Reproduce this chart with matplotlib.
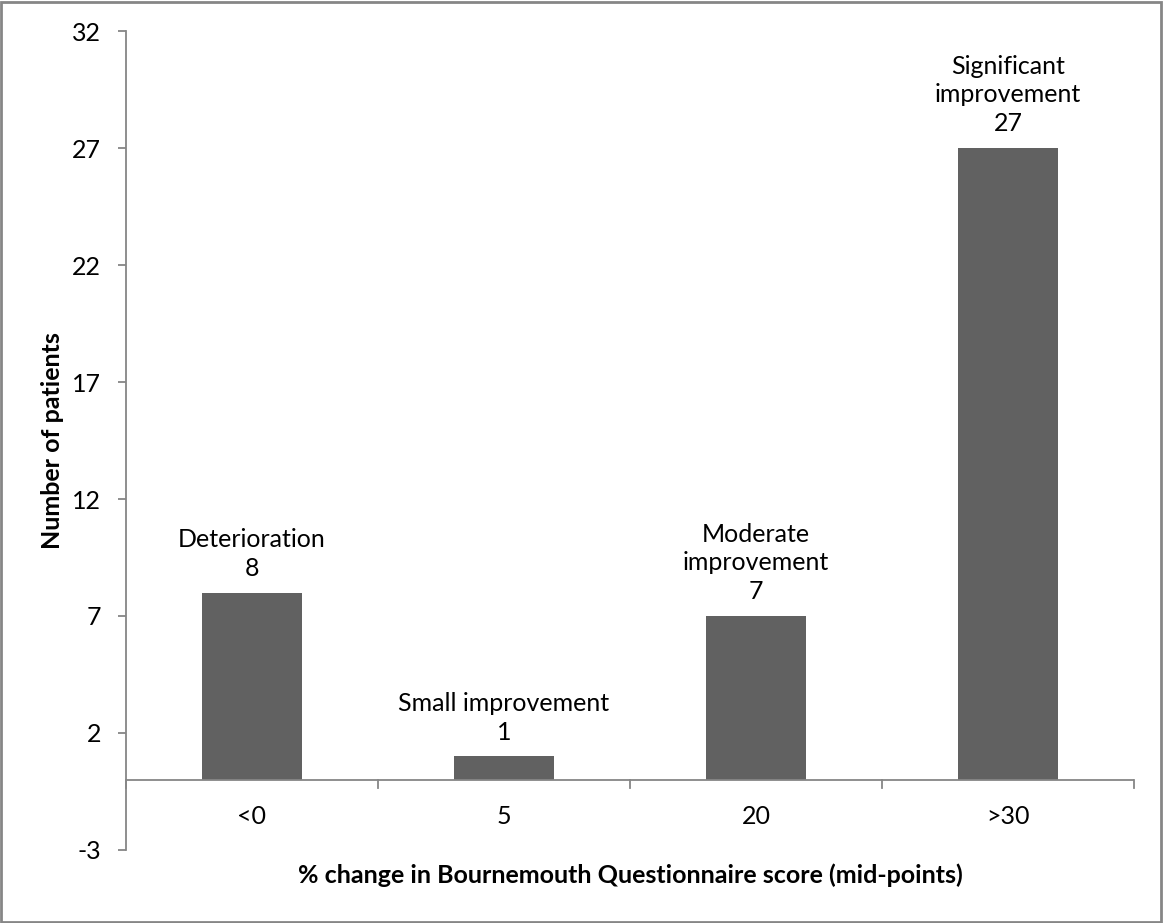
import matplotlib.pyplot as plt
from matplotlib.patches import Rectangle

plt.rcParams['font.family'] = ['Lato', 'DejaVu Sans']
plt.rcParams['axes.unicode_minus'] = False

categories = ['<0', '5', '20', '>30']
patients = [8, 1, 7, 27]
labels = ['Deterioration', 'Small improvement', 'Moderate\nimprovement', 'Significant\nimprovement']
y_ticks = [-3, 2, 7, 12, 17, 22, 27, 32]

fig = plt.figure(figsize=(11.63, 9.23), dpi=100)
ax = fig.add_axes([0.1083, 0.0791, 0.8667, 0.8873])

x = range(len(categories))
ax.bar(x, patients, width=0.4, color='#616161', zorder=2)

ax.set_xlim(-0.5, len(categories) - 0.5)
ax.set_ylim(-3, 32)
ax.set_yticks(y_ticks)
ax.tick_params(axis='y', direction='out', length=6, width=1.3, color='#868686',
               labelsize=18, pad=12)

for s in ['top', 'right', 'bottom']:
    ax.spines[s].set_visible(False)
ax.spines['left'].set_color('#868686')
ax.spines['left'].set_linewidth(1.3)

# x axis at zero with boundary tick marks
ax.axhline(0, color='#868686', lw=1.3, zorder=3)
ax.set_xticks([])
for b in [i - 0.5 for i in range(len(categories) + 1)]:
    ax.plot([b, b], [0, -0.35], color='#868686', lw=1.3, clip_on=False, zorder=3)
for i, c in enumerate(categories):
    ax.text(i, -1.58, c, ha='center', va='center', fontsize=18)

for i, (v, lab) in enumerate(zip(patients, labels)):
    ax.text(i, v + 0.55, lab + '\n' + str(v), ha='center', va='bottom',
            fontsize=18, linespacing=1.3)

fig.text(0.045, 0.523, 'Number of patients', rotation=90, ha='center', va='center',
         fontsize=18, fontweight='bold')
fig.text(0.5417, 0.052, '% change in Bournemouth Questionnaire score (mid-points)',
         ha='center', va='center', fontsize=18, fontweight='bold')

fig.patches.append(Rectangle((0.001, 0.001), 0.997, 0.997, transform=fig.transFigure,
                             fill=False, edgecolor='#868686', lw=2))

fig.savefig('out.png', dpi=100)
